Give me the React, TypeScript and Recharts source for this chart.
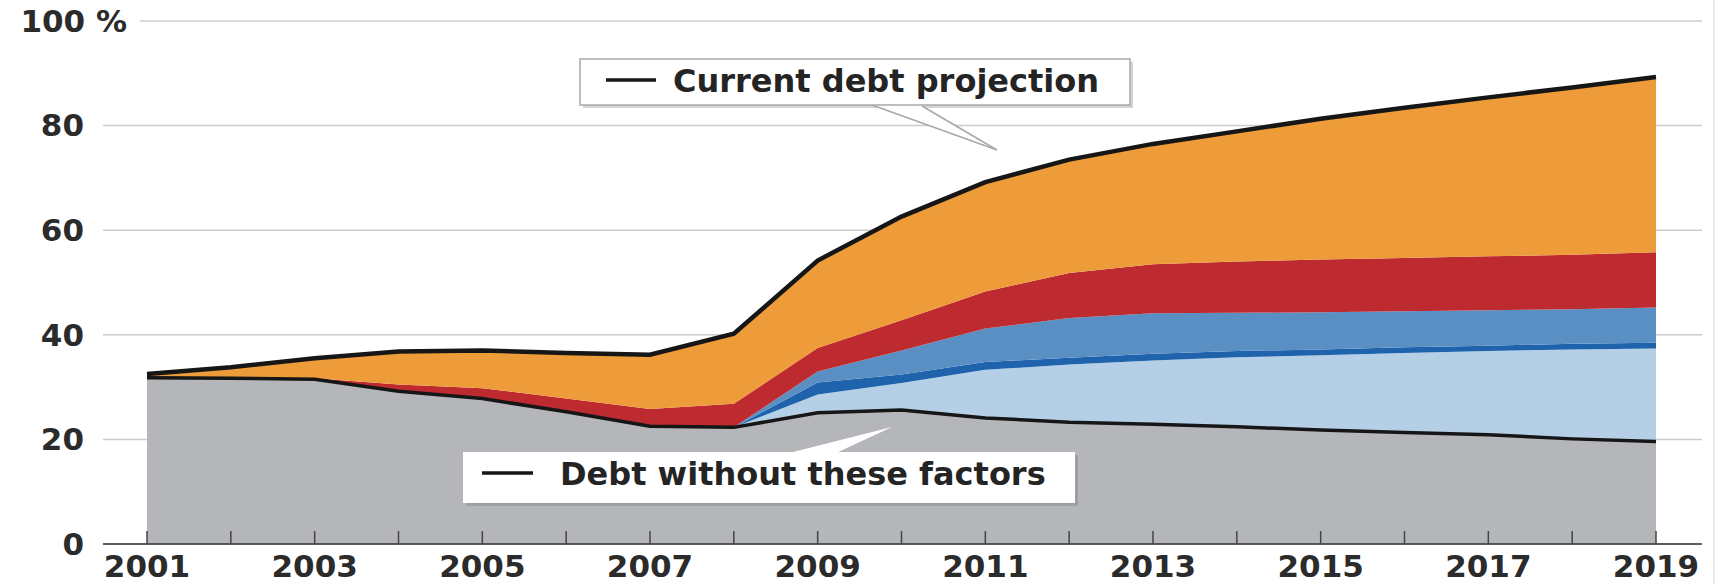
import React from 'react';
import { ComposedChart, Area, Line, XAxis, YAxis, CartesianGrid } from 'recharts';

// debt as % of GDP, stacked components
const years = [2001, 2002, 2003, 2004, 2005, 2006, 2007, 2008, 2009, 2010, 2011, 2012, 2013, 2014, 2015, 2016, 2017, 2018, 2019];
const withoutFactors = [31.8, 31.7, 31.5, 29.2, 27.8, 25.3, 22.5, 22.3, 25.1, 25.6, 24.1, 23.3, 22.9, 22.4, 21.8, 21.3, 20.9, 20.1, 19.6];
const lightBlue = [0, 0, 0, 0, 0, 0, 0, 0, 3.5, 5.2, 9.2, 11.0, 12.2, 13.3, 14.3, 15.2, 16.0, 17.1, 17.8];
const darkBlue = [0, 0, 0, 0, 0, 0, 0, 0, 2.3, 1.6, 1.5, 1.3, 1.3, 1.2, 1.1, 1.1, 1.0, 1.1, 1.1];
const midBlue = [0, 0, 0, 0, 0, 0, 0, 0, 2.1, 4.6, 6.4, 7.6, 7.7, 7.3, 7.1, 6.9, 6.8, 6.6, 6.7];
const red = [0, 0, 0.2, 1.3, 2.0, 2.5, 3.3, 4.5, 4.5, 5.8, 7.1, 8.6, 9.4, 9.8, 10.1, 10.2, 10.3, 10.4, 10.6];
const orange = [0.7, 2.1, 3.8, 6.3, 7.2, 8.7, 10.4, 13.4, 16.7, 19.8, 20.9, 21.7, 23.0, 24.9, 26.9, 28.7, 30.4, 32.0, 33.5];
const yTicks = [0, 20, 40, 60, 80, 100];

const COLORS = {
  gray: '#b4b6b9',
  light: '#b5d0e6',
  dark: '#1f63ad',
  mid: '#5a8fc3',
  red: '#bd2a2f',
  orange: '#ee9c39',
  line: '#161616',
  grid: '#cccccc',
  text: '#2b2b2b',
};

const FONT = '"DejaVu Sans", sans-serif';
const TOP = 21;

const data = years.map((year, i) => ({
  year,
  base: withoutFactors[i],
  light: lightBlue[i],
  dark: darkBlue[i],
  mid: midBlue[i],
  red: red[i],
  orange: orange[i],
  total: withoutFactors[i] + lightBlue[i] + darkBlue[i] + midBlue[i] + red[i] + orange[i],
}));

function gridLine(p: any) {
  // top line starts after the "100 %" label
  const isTop = Math.abs(p.y1 - TOP) < 1;
  return (
    <line
      key={`g-${p.index}`}
      x1={isTop ? p.x1 + 37 : p.x1}
      x2={p.x2}
      y1={p.y1}
      y2={p.y2}
      stroke={COLORS.grid}
      strokeWidth={1.5}
    />
  );
}

function XTick({ x, y, payload }: any) {
  const v = payload.value;
  return (
    <g>
      <line x1={x} x2={x} y1={y} y2={y - 13} stroke="#444" strokeWidth={1.5} />
      {v % 2 === 1 && (
        <text x={x} y={y + 33} textAnchor="middle" fontFamily={FONT} fontWeight="bold" fontSize={31} fill={COLORS.text}>
          {v}
        </text>
      )}
    </g>
  );
}

function YTick({ x, y, payload }: any) {
  const v = payload.value;
  const label = v === 100 ? '100 %' : String(v);
  return (
    <text
      x={v === 100 ? x + 43 : x}
      y={y}
      dy="0.35em"
      textAnchor="end"
      fontFamily={FONT}
      fontWeight="bold"
      fontSize={31}
      fill={COLORS.text}
    >
      {label}
    </text>
  );
}

function Callouts() {
  const textStyle = { fontFamily: FONT, fontWeight: 'bold' as const, fontSize: 32, fill: '#242424' };
  return (
    <svg width={1720} height={584} style={{ position: 'absolute', left: 0, top: 0, pointerEvents: 'none' }}>
      {/* current debt projection */}
      <rect x={583} y={62} width={550} height={46} fill="#d4d4d4" />
      <polygon points="872,105 922,105 997,150" fill="#fff" />
      <line x1={872} y1={105} x2={997} y2={150} stroke="#a8a8a8" strokeWidth={1.5} />
      <line x1={922} y1={106} x2={997} y2={150} stroke="#a8a8a8" strokeWidth={1.5} />
      <rect x={580} y={59} width={550} height={46} fill="#fff" stroke="#a8a8a8" strokeWidth={1.5} />
      <line x1={606} x2={656} y1={80} y2={80} stroke={COLORS.line} strokeWidth={3.5} />
      <text x={673} y={92} {...textStyle}>Current debt projection</text>

      {/* debt without these factors */}
      <rect x={466} y={455} width={612} height={51} fill="rgba(0,0,0,0.12)" />
      <polygon points="789,453 836,453 892,427" fill="#fff" />
      <rect x={463} y={452} width={612} height={51} fill="#fff" />
      <line x1={482} x2={533} y1={473} y2={473} stroke={COLORS.line} strokeWidth={3.5} />
      <text x={560} y={485} {...textStyle}>Debt without these factors</text>

      <line x1={1714} x2={1714} y1={0} y2={584} stroke="#e2ecf4" strokeWidth={2} />
    </svg>
  );
}

export default function App() {
  return (
    <div style={{ position: 'absolute', left: 0, top: 0, width: 1720, height: 584, background: '#fff' }}>
      <ComposedChart width={1720} height={584} data={data} margin={{ top: TOP, right: 18, bottom: 0, left: 0 }}>
        <CartesianGrid vertical={false} horizontal={gridLine} />
        <Area dataKey="base" stackId="a" type="linear" fill={COLORS.gray} fillOpacity={1} stroke="none" isAnimationActive={false} />
        <Area dataKey="light" stackId="a" type="linear" fill={COLORS.light} fillOpacity={1} stroke="none" isAnimationActive={false} />
        <Area dataKey="dark" stackId="a" type="linear" fill={COLORS.dark} fillOpacity={1} stroke="none" isAnimationActive={false} />
        <Area dataKey="mid" stackId="a" type="linear" fill={COLORS.mid} fillOpacity={1} stroke="none" isAnimationActive={false} />
        <Area dataKey="red" stackId="a" type="linear" fill={COLORS.red} fillOpacity={1} stroke="none" isAnimationActive={false} />
        <Area dataKey="orange" stackId="a" type="linear" fill={COLORS.orange} fillOpacity={1} stroke="none" isAnimationActive={false} />
        <Line dataKey="base" type="linear" stroke={COLORS.line} strokeWidth={3.5} dot={false} activeDot={false} isAnimationActive={false} />
        <Line dataKey="total" type="linear" stroke={COLORS.line} strokeWidth={4.5} dot={false} activeDot={false} isAnimationActive={false} />
        <XAxis
          dataKey="year"
          type="number"
          domain={[2001, 2019]}
          ticks={years}
          interval={0}
          padding={{ left: 44, right: 46 }}
          height={40}
          tickSize={0}
          tickMargin={0}
          tickLine={false}
          axisLine={{ stroke: '#333', strokeWidth: 1.5 }}
          tick={<XTick />}
        />
        <YAxis
          domain={[0, 100]}
          ticks={yTicks}
          width={103}
          axisLine={false}
          tickLine={false}
          tickMargin={13}
          tick={<YTick />}
        />
      </ComposedChart>
      <Callouts />
    </div>
  );
}
